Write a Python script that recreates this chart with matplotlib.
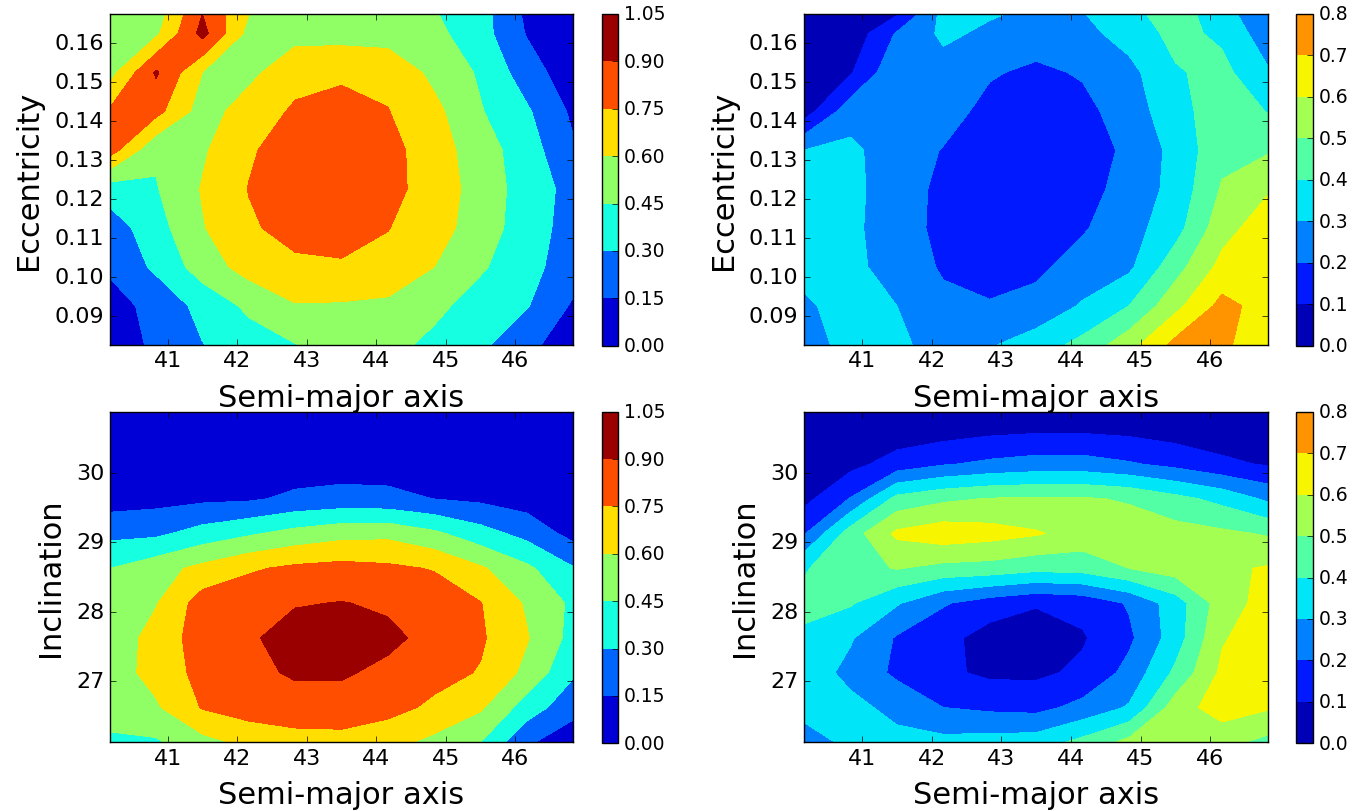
import numpy as np
import matplotlib
matplotlib.use("Agg")
import matplotlib.pyplot as plt
from matplotlib.colors import Normalize

plt.style.use('classic')
plt.rcParams['font.family'] = ['DejaVu Sans']
plt.rcParams['figure.facecolor'] = 'white'
plt.rcParams['savefig.facecolor'] = 'white'

# ---- grid coordinates (bin centres) ----
semi_major = [40.1667, 40.8333, 41.5, 42.1667, 42.8333, 43.5,
              44.1667, 44.8333, 45.5, 46.1667, 46.8333]
eccentricity = [0.0825, 0.0925, 0.1025, 0.1125, 0.1225, 0.1325,
                0.1425, 0.1525, 0.1625, 0.1675]
inclination = [26.125, 26.625, 27.125, 27.625, 28.125, 28.625,
               29.125, 29.625, 30.125, 30.625, 30.875]

# ---- top-left: semi-major axis vs eccentricity (rows = eccentricity, bottom->top) ----
tl_r0 = [0.09, 0.17, 0.295, 0.38, 0.445, 0.52, 0.50, 0.41, 0.33, 0.19, 0.06]
tl_r1 = [0.10, 0.19, 0.35, 0.48, 0.59, 0.585, 0.57, 0.49, 0.38, 0.31, 0.13]
tl_r2 = [0.17, 0.33, 0.52, 0.66, 0.72, 0.73, 0.70, 0.60, 0.47, 0.35, 0.22]
tl_r3 = [0.22, 0.39, 0.59, 0.73, 0.80, 0.82, 0.755, 0.66, 0.53, 0.37, 0.24]
tl_r4 = [0.37, 0.44, 0.61, 0.755, 0.84, 0.86, 0.80, 0.68, 0.54, 0.38, 0.25]
tl_r5 = [0.82, 0.47, 0.58, 0.73, 0.83, 0.85, 0.80, 0.67, 0.52, 0.37, 0.17]
tl_r6 = [0.77, 0.80, 0.53, 0.67, 0.77, 0.79, 0.755, 0.64, 0.46, 0.32, 0.12]
tl_r7 = [0.54, 0.92, 0.60, 0.56, 0.70, 0.73, 0.71, 0.56, 0.43, 0.22, 0.06]
tl_r8 = [0.52, 0.57, 0.95, 0.55, 0.55, 0.54, 0.53, 0.49, 0.36, 0.14, 0.05]
tl_r9 = [0.53, 0.52, 0.90, 0.60, 0.46, 0.44, 0.46, 0.46, 0.36, 0.12, 0.04]

# ---- top-right ----
tr_r0 = [0.26, 0.33, 0.32, 0.26, 0.29, 0.35, 0.43, 0.56, 0.73, 0.715, 0.65]
tr_r1 = [0.28, 0.35, 0.30, 0.22, 0.21, 0.23, 0.31, 0.40, 0.57, 0.73, 0.66]
tr_r2 = [0.34, 0.33, 0.25, 0.19, 0.15, 0.18, 0.24, 0.28, 0.46, 0.63, 0.66]
tr_r3 = [0.36, 0.32, 0.25, 0.17, 0.13, 0.14, 0.19, 0.26, 0.36, 0.56, 0.66]
tr_r4 = [0.35, 0.32, 0.26, 0.17, 0.12, 0.12, 0.16, 0.24, 0.33, 0.51, 0.59]
tr_r5 = [0.30, 0.32, 0.25, 0.195, 0.14, 0.12, 0.15, 0.22, 0.33, 0.47, 0.49]
tr_r6 = [0.05, 0.26, 0.27, 0.24, 0.17, 0.14, 0.17, 0.25, 0.36, 0.46, 0.395]
tr_r7 = [0.03, 0.09, 0.28, 0.26, 0.21, 0.18, 0.21, 0.27, 0.39, 0.43, 0.31]
tr_r8 = [0.02, 0.03, 0.21, 0.32, 0.28, 0.25, 0.27, 0.34, 0.43, 0.38, 0.24]
tr_r9 = [0.01, 0.03, 0.09, 0.33, 0.31, 0.28, 0.295, 0.37, 0.45, 0.34, 0.22]

# ---- bottom-left: semi-major axis vs inclination ----
bl_r0 = [0.42, 0.43, 0.55, 0.64, 0.68, 0.69, 0.65, 0.56, 0.45, 0.17, 0.06]
bl_r1 = [0.52, 0.58, 0.76, 0.82, 0.85, 0.85, 0.80, 0.72, 0.62, 0.38, 0.20]
bl_r2 = [0.53, 0.65, 0.80, 0.87, 0.915, 0.915, 0.87, 0.80, 0.74, 0.56, 0.32]
bl_r3 = [0.50, 0.66, 0.82, 0.88, 0.96, 0.97, 0.93, 0.86, 0.77, 0.61, 0.40]
bl_r4 = [0.52, 0.59, 0.82, 0.85, 0.89, 0.905, 0.88, 0.84, 0.755, 0.58, 0.42]
bl_r5 = [0.45, 0.54, 0.64, 0.73, 0.78, 0.80, 0.78, 0.74, 0.62, 0.48, 0.31]
bl_r6 = [0.26, 0.27, 0.36, 0.43, 0.50, 0.55, 0.56, 0.48, 0.36, 0.25, 0.10]
bl_r7 = [0.08, 0.10, 0.12, 0.13, 0.18, 0.20, 0.19, 0.148, 0.12, 0.08, 0.04]
bl_r8 = [0.03, 0.04, 0.05, 0.06, 0.07, 0.08, 0.08, 0.07, 0.06, 0.04, 0.02]
bl_r9 = [0.02, 0.02, 0.03, 0.03, 0.04, 0.04, 0.04, 0.04, 0.03, 0.02, 0.01]
bl_r10 = [0.01, 0.01, 0.02, 0.02, 0.03, 0.03, 0.03, 0.03, 0.02, 0.01, 0.01]

# ---- bottom-right ----
br_r0 = [0.26, 0.32, 0.33, 0.33, 0.34, 0.35, 0.43, 0.53, 0.58, 0.53, 0.47]
br_r1 = [0.33, 0.33, 0.27, 0.20, 0.18, 0.17, 0.23, 0.31, 0.55, 0.65, 0.61]
br_r2 = [0.36, 0.27, 0.18, 0.12, 0.08, 0.08, 0.12, 0.23, 0.42, 0.62, 0.68]
br_r3 = [0.38, 0.31, 0.19, 0.13, 0.06, 0.04, 0.09, 0.18, 0.35, 0.59, 0.66]
br_r4 = [0.43, 0.41, 0.31, 0.21, 0.15, 0.11, 0.13, 0.21, 0.35, 0.55, 0.64]
br_r5 = [0.39, 0.47, 0.505, 0.47, 0.46, 0.43, 0.44, 0.50, 0.55, 0.58, 0.61]
br_r6 = [0.19, 0.45, 0.62, 0.66, 0.64, 0.61, 0.56, 0.55, 0.54, 0.52, 0.49]
br_r7 = [0.07, 0.205, 0.43, 0.48, 0.505, 0.51, 0.51, 0.49, 0.43, 0.37, 0.28]
br_r8 = [0.03, 0.07, 0.14, 0.19, 0.22, 0.24, 0.24, 0.21, 0.17, 0.12, 0.09]
br_r9 = [0.02, 0.03, 0.04, 0.05, 0.07, 0.08, 0.08, 0.07, 0.05, 0.04, 0.03]
br_r10 = [0.01, 0.02, 0.03, 0.04, 0.05, 0.06, 0.06, 0.05, 0.04, 0.03, 0.02]

levels_left = [0.0, 0.15, 0.30, 0.45, 0.60, 0.75, 0.90, 1.05]
levels_right = [0.0, 0.1, 0.2, 0.3, 0.4, 0.5, 0.6, 0.7, 0.8]
xticks = [41, 42, 43, 44, 45, 46]
ecc_ticks = [0.09, 0.10, 0.11, 0.12, 0.13, 0.14, 0.15, 0.16]
inc_ticks = [27, 28, 29, 30]

Z_tl = np.array([tl_r0, tl_r1, tl_r2, tl_r3, tl_r4, tl_r5, tl_r6, tl_r7, tl_r8, tl_r9])
Z_tr = np.array([tr_r0, tr_r1, tr_r2, tr_r3, tr_r4, tr_r5, tr_r6, tr_r7, tr_r8, tr_r9])
Z_bl = np.array([bl_r0, bl_r1, bl_r2, bl_r3, bl_r4, bl_r5, bl_r6, bl_r7, bl_r8, bl_r9, bl_r10])
Z_br = np.array([br_r0, br_r1, br_r2, br_r3, br_r4, br_r5, br_r6, br_r7, br_r8, br_r9, br_r10])

fig = plt.figure(figsize=(13.66, 8.12), dpi=100)
W, H = 1366.0, 812.0

def px_rect(x0, y0, x1, y1):
    return [x0 / W, 1 - y1 / H, (x1 - x0) / W, (y1 - y0) / H]

norm = Normalize(vmin=0.0, vmax=1.0)

panels = [
    (Z_tl, eccentricity, levels_left, ecc_ticks, 'Eccentricity', (109.7, 15.0, 573.3, 345.7), (601.7, 618.3), '%.2f', '%.2f'),
    (Z_tr, eccentricity, levels_right, ecc_ticks, 'Eccentricity', (804.0, 15.0, 1268.3, 345.7), (1296.0, 1313.3), '%.2f', '%.1f'),
    (Z_bl, inclination, levels_left, inc_ticks, 'Inclination', (109.7, 412.7, 573.3, 743.3), (601.7, 618.3), '%d', '%.2f'),
    (Z_br, inclination, levels_right, inc_ticks, 'Inclination', (804.0, 412.7, 1268.3, 743.3), (1296.0, 1313.3), '%d', '%.1f'),
]

for Z, yvals, levels, yt, ylab, (x0, y0, x1, y1), (c0, c1), yfmt, cfmt in panels:
    ax = fig.add_axes(px_rect(x0, y0, x1, y1))
    cf = ax.contourf(semi_major, yvals, Z, levels=levels, cmap='jet', norm=norm)
    ax.set_xlim(min(semi_major), max(semi_major))
    ax.set_ylim(min(yvals), max(yvals))
    ax.set_xticks(xticks)
    ax.set_yticks(yt)
    ax.set_yticklabels([yfmt % v for v in yt])
    ax.tick_params(labelsize=16, direction='in', top=True, right=True, length=4)
    ax.set_xlabel('Semi-major axis', fontsize=22, labelpad=9)
    ax.set_ylabel(ylab, fontsize=22, labelpad=8)
    cax = fig.add_axes(px_rect(c0, y0, c1, y1 + 1))
    cb = fig.colorbar(cf, cax=cax, ticks=levels)
    cb.ax.set_yticklabels([cfmt % v for v in levels])
    cb.ax.tick_params(labelsize=13.5)

fig.savefig('out.png', dpi=100)
